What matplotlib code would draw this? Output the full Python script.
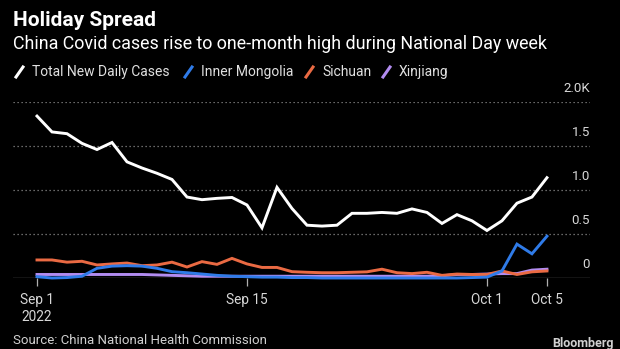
import numpy as np
import pandas as pd
import matplotlib
matplotlib.use("Agg")
import matplotlib.pyplot as plt
import matplotlib.dates as mdates
from matplotlib.lines import Line2D
from matplotlib.transforms import offset_copy

plt.rcParams['font.family'] = ['Roboto', 'DejaVu Sans']

# daily values, thousands of cases, Sep 1 - Oct 5 2022
dates = pd.date_range("2022-09-01", "2022-10-05", freq="D")
total = [1.84, 1.66, 1.64, 1.53, 1.46, 1.54, 1.32, 1.25, 1.19, 1.12,
         0.92, 0.89, 0.905, 0.915, 0.83, 0.57, 1.03, 0.79, 0.60, 0.59,
         0.60, 0.735, 0.735, 0.745, 0.735, 0.785, 0.745, 0.62, 0.72, 0.65,
         0.54, 0.65, 0.85, 0.92, 1.14]
inner_mongolia = [0.015, 0.0, 0.005, 0.02, 0.11, 0.135, 0.14, 0.135, 0.11, 0.072,
                  0.06, 0.045, 0.03, 0.02, 0.015, 0.01, 0.01, 0.005, 0.005, 0.0,
                  0.0, 0.0, 0.0, 0.0, 0.0, 0.0, 0.0, 0.0, 0.0, 0.005,
                  0.01, 0.08, 0.385, 0.275, 0.475]
sichuan = [0.205, 0.205, 0.18, 0.19, 0.148, 0.16, 0.17, 0.14, 0.148, 0.18,
           0.125, 0.186, 0.155, 0.223, 0.16, 0.12, 0.12, 0.072, 0.065, 0.06,
           0.06, 0.065, 0.07, 0.10, 0.06, 0.05, 0.065, 0.03, 0.045, 0.04,
           0.04, 0.08, 0.04, 0.07, 0.08]
xinjiang = [0.04, 0.04, 0.04, 0.04, 0.04, 0.04, 0.04, 0.04, 0.035, 0.03,
            0.025, 0.02, 0.02, 0.02, 0.02, 0.02, 0.02, 0.02, 0.02, 0.02,
            0.02, 0.02, 0.02, 0.02, 0.02, 0.02, 0.02, 0.025, 0.04, 0.04,
            0.045, 0.05, 0.05, 0.09, 0.10]

series = [("Total New Daily Cases", total, "#ffffff"),
          ("Inner Mongolia", inner_mongolia, "#2f7be8"),
          ("Sichuan", sichuan, "#ea6a43"),
          ("Xinjiang", xinjiang, "#b28cf0")]

y_ticks = [0, 0.5, 1.0, 1.5, 2.0]
y_labels = ["0", "0.5", "1.0", "1.5", "2.0K"]
x_ticks = ["2022-09-01", "2022-09-15", "2022-10-01", "2022-10-05"]
x_labels = ["Sep 1\n2022", "Sep 15", "Oct 1", "Oct 5"]

fig = plt.figure(figsize=(6.2, 3.49), dpi=100, facecolor="black")
ax = fig.add_axes([13 / 620, 71 / 349, 577 / 620, 176 / 349])
ax.set_facecolor("black")

# draw thin series first so the white line sits on top
for name, vals, col in series[::-1]:
    ax.plot(dates, vals, color=col, lw=2.1, clip_on=False, solid_joinstyle="miter")

ax.set_ylim(0, 2.0)
ax.set_xlim(pd.Timestamp("2022-09-01") - pd.Timedelta(days=1.6),
            pd.Timestamp("2022-10-05") + pd.Timedelta(days=2.87))

for v in y_ticks[1:]:
    ax.axhline(v, color="#8a8a8a", lw=0.9, ls=(0, (1, 2.2)), zorder=0)
ax.axhline(0, color="#9a9a9a", lw=0.9, zorder=0)

# y labels sit above the grid lines on the right
trans = offset_copy(ax.get_yaxis_transform(), fig=fig, x=0, y=5, units="points")
for v, lab in zip(y_ticks, y_labels):
    ax.text(1.0, v, lab, transform=trans, ha="right", va="bottom",
            color="#d8d8d8", fontsize=9.5)

for s in ax.spines.values():
    s.set_visible(False)
ax.set_yticks([])
ax.set_xticks([pd.Timestamp(d) for d in x_ticks])
ax.set_xticklabels(x_labels, linespacing=1.25)
ax.tick_params(axis="x", colors="#b0b0b0", length=6, width=0.9, pad=5,
               labelcolor="#d8d8d8", labelsize=9.8)

fig.text(13 / 620, 1 - 20 / 349, "Holiday Spread", color="white",
         fontsize=15, fontweight="bold", va="center")
fig.text(13 / 620, 1 - 44 / 349,
         "China Covid cases rise to one-month high during National Day week",
         color="white", fontsize=12.9, va="center")

# legend with slanted swatches
leg_x = [16, 185, 306, 383]
for (name, vals, col), x0 in zip(series, leg_x):
    fig.add_artist(Line2D([x0 / 620, (x0 + 7) / 620],
                          [1 - 77 / 349, 1 - 67 / 349],
                          color=col, lw=2.2, transform=fig.transFigure))
    fig.text((x0 + 16) / 620, 1 - 72 / 349, name, color="#e0e0e0",
             fontsize=10, va="center")

fig.text(13 / 620, 1 - 340 / 349, "Source: China National Health Commission",
         color="#d0d0d0", fontsize=9.5, va="center")
fig.text(614 / 620, 1 - 343 / 349, "Bloomberg", color="#d0d0d0",
         fontsize=9, fontweight="bold", ha="right", va="center")

fig.savefig("out.png", dpi=100, facecolor="black")
